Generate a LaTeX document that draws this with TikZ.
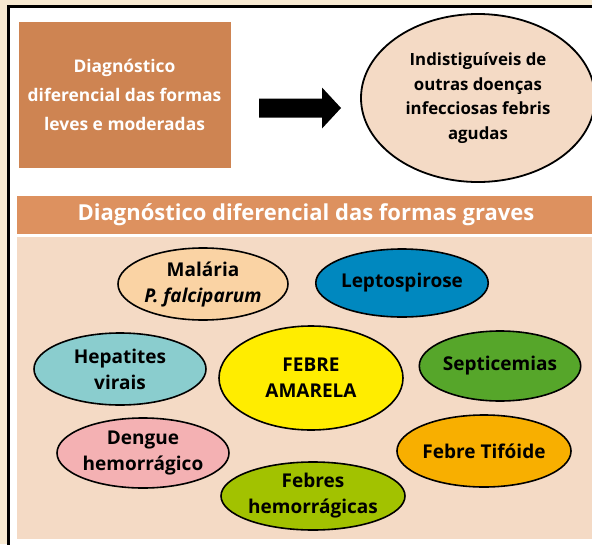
\documentclass[tikz,border=0pt]{standalone}
\usepackage{fontspec}
\setmainfont{Open Sans}
\usetikzlibrary{shapes.geometric,positioning}

\definecolor{creme}{HTML}{F8EAD2}
\definecolor{boxorange}{HTML}{CE8452}
\definecolor{barorange}{HTML}{DD915F}
\definecolor{peach}{HTML}{F4DAC5}
\definecolor{malaria}{HTML}{FAD3A4}
\definecolor{lepto}{HTML}{0088BF}
\definecolor{hepat}{HTML}{8ACDCE}
\definecolor{amarela}{HTML}{FFED00}
\definecolor{septic}{HTML}{56A62A}
\definecolor{dengue}{HTML}{F4B1B3}
\definecolor{tifoide}{HTML}{F8AF00}
\definecolor{hemorr}{HTML}{A2C200}

\begin{document}
\begin{tikzpicture}
	[x=1pt,y=-1pt,
	 %Styles
	 inner sep=0pt,
	 mild_box/.style={rectangle,fill=boxorange,text=white,align=center,
	   font=\fontsize{17.4}{29}\selectfont\bfseries},
	 top_ell/.style={ellipse,draw=black,line width=1.8pt,fill=peach,align=center,
	   font=\fontsize{16.8}{24.5}\selectfont\bfseries},
	 bar_node/.style={rectangle,fill=barorange,text=white,
	   font=\fontsize{22}{24}\selectfont\bfseries},
	 dis_ell/.style={ellipse,draw=black,line width=1.6pt,align=center,
	   font=\fontsize{19}{26}\selectfont\bfseries},
	 block_arrow/.style={fill=black}
	]

	%Page and frame
	\useasboundingbox (0,0) rectangle (592,544);
	\clip (0,0) rectangle (592,544);
	\fill[creme] (0,0) rectangle (592,544);
	\draw[line width=2.6pt,fill=white] (8.7,6.3) rectangle (610,560);

	%Mild forms
	\node (mild)[mild_box,minimum width=212pt,minimum height=146pt] at (124.5,95)
	  {Diagnóstico\\diferencial das formas\\leves e moderadas};
	\node (indist)[top_ell,minimum width=234pt,minimum height=168pt] at (478,98)
	  {Indistiguíveis de\\outras doenças\\infecciosas febris\\agudas};

	%Arrow
	\coordinate (arrtail) at (259,108);
	\coordinate (arrtip) at (341,108);
	\fill[block_arrow] ([yshift=-9.5pt]arrtail) -- ([xshift=-19pt,yshift=-9.5pt]arrtip)
	  -- ([xshift=-19pt,yshift=-20.5pt]arrtip) -- (arrtip)
	  -- ([xshift=-19pt,yshift=20.5pt]arrtip) -- ([xshift=-19pt,yshift=9.5pt]arrtip)
	  -- ([yshift=9.5pt]arrtail) -- cycle;

	%Severe forms
	\node (bar)[bar_node,minimum width=600pt,minimum height=38pt,anchor=north west] at (17,196) {};
	\node (bartitle)[bar_node] at (306,215) {Diagnóstico diferencial das formas graves};
	\fill[peach] (17,237) rectangle (600,539);

	%Diseases
	\node (malaria)[dis_ell,fill=malaria,minimum width=170pt,minimum height=72pt] at (203,284)
	  {Malária\\\itshape P. falciparum};
	\node (lepto)[dis_ell,fill=lepto,minimum width=164pt,minimum height=68pt] at (402,283)
	  {Leptospirose};
	\node (hepat)[dis_ell,fill=hepat,minimum width=172pt,minimum height=72pt] at (120,369)
	  {Hepatites\\virais};
	\node (amarela)[dis_ell,fill=amarela,minimum width=184pt,minimum height=104pt] at (311,378)
	  {FEBRE\\AMARELA};
	\node (septic)[dis_ell,fill=septic,minimum width=160pt,minimum height=70pt] at (500,366)
	  {Septicemias};
	\node (dengue)[dis_ell,fill=dengue,minimum width=172pt,minimum height=70pt] at (143,453)
	  {Dengue\\hemorrágico};
	\node (tifoide)[dis_ell,fill=tifoide,minimum width=172pt,minimum height=72pt] at (484,451)
	  {Febre Tifóide};
	\node (hemorr)[dis_ell,fill=hemorr,minimum width=184pt,minimum height=68pt] at (313,496)
	  {Febres\\hemorrágicas};
\end{tikzpicture}
\end{document}
